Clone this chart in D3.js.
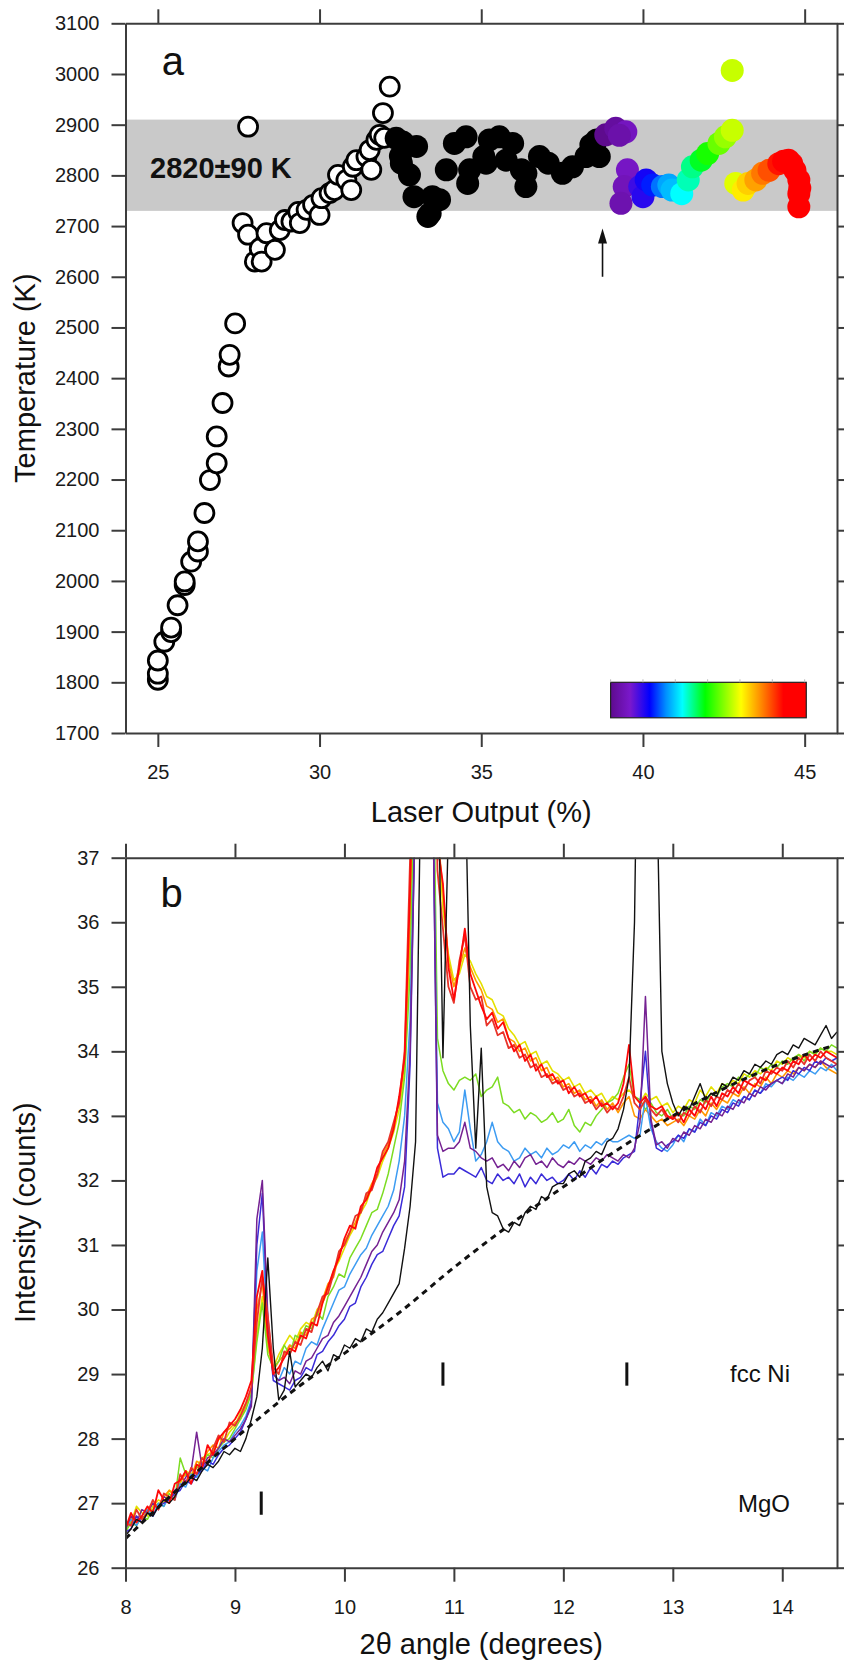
<!DOCTYPE html>
<html>
<head>
<meta charset="utf-8">
<script src="https://cdn.jsdelivr.net/npm/d3@7"></script>
<style>
  body { margin: 0; background: #fff; }
  svg { display: block; font-family: 'Liberation Sans', Arial, sans-serif; }
</style>
</head>
<body>
<svg id="chart" width="844" height="1666"></svg>
<script>
// ---- panel a: temperature vs laser output ----
const heatingOutput = [25.0, 25.0, 25.0, 25.2, 25.41, 25.41, 25.61, 25.83, 25.83, 26.03, 26.24, 26.24, 26.44, 26.61, 26.82, 26.82,
  27.0, 27.19, 27.22, 27.39, 27.62, 27.79, 27.79, 28.0, 28.15, 28.21, 28.36, 28.62, 28.77, 28.93, 29.13, 29.34, 29.39,
  29.6, 29.8, 30.0, 30.06, 30.31, 30.46, 30.57, 30.83, 30.98, 31.03, 31.14, 31.45, 31.55, 31.6, 31.76, 31.86, 32.0, 31.96, 32.17]
const heatingTemp = [1805, 1817, 1843, 1880, 1899, 1908, 1952, 1992, 1999, 2038, 2058, 2078, 2134, 2199, 2232, 2285,
  2351, 2423, 2446, 2508, 2706, 2683, 2896, 2630, 2656, 2630, 2686, 2653, 2692, 2712, 2709, 2728, 2706,
  2732, 2742, 2722, 2755, 2765, 2771, 2801, 2791, 2771, 2817, 2830, 2837, 2850, 2811, 2870, 2880, 2874, 2923, 2975]

const plateauOutput = [32.37, 32.57, 32.5, 32.53, 32.78, 33.0, 32.92, 33.35, 33.42, 33.49, 33.71, 33.92, 34.17, 34.53, 34.64,
  34.58, 35.08, 35.15, 35.25, 35.56, 35.77, 35.97, 36.24, 36.38, 36.38, 36.8, 37.07, 37.51, 37.82, 38.24, 38.39, 38.65, 38.57]
const plateauTemp = [2873, 2866, 2838, 2824, 2801, 2857, 2758, 2719, 2725, 2758, 2752, 2811, 2863, 2876, 2811,
  2784, 2837, 2824, 2870, 2876, 2830, 2863, 2811, 2778, 2804, 2837, 2824, 2804, 2817, 2837, 2860, 2837, 2870]

const scanOutput = [38.85, 39.16, 39.47, 39.27, 39.52, 39.42, 39.32, 39.9, 40.0, 40.1, 40.3, 40.6, 40.8, 40.9, 41.2, 41.4,
  41.53, 41.8, 42.0, 42.35, 42.55, 42.76, 42.76, 42.87, 43.1, 43.25, 43.49, 43.7, 43.9, 44.2, 44.35, 44.5, 44.6, 44.7,
  44.82, 44.85, 44.82, 44.82]
const scanTemp = [2880, 2893, 2886, 2879, 2811, 2778, 2745, 2778, 2758, 2791, 2781, 2778, 2781, 2771, 2764, 2791,
  2817, 2830, 2843, 2863, 2876, 2889, 3007, 2784, 2771, 2784, 2791, 2804, 2810, 2823, 2828, 2830, 2823, 2810,
  2791, 2775, 2764, 2738]

const meltBand = [2730, 2910]
const meltLabel = '2820±90 K'
const arrowOutput = 38.75
const arrowTemp = [2600, 2695]

const rampOutput = [39, 39.6, 40.2, 40.7, 41.2, 41.9, 43, 43.6, 44.3, 45]
const rampColors = ['#5e0b8e', '#7a18cc', '#0000ff', '#0090ff', '#00ffff', '#00ff00', '#ffff00', '#ff8c00', '#ff0000', '#ff0000']

const tempTicks = [1700, 1800, 1900, 2000, 2100, 2200, 2300, 2400, 2500, 2600, 2700, 2800, 2900, 3000, 3100]
const outputTicks = [25, 30, 35, 40, 45]

// ---- panel b: diffraction patterns ----
const twoTheta = [
  8, 8.05, 8.1, 8.15, 8.2, 8.25, 8.3, 8.35, 8.4, 8.45,
  8.5, 8.55, 8.6, 8.65, 8.7, 8.75, 8.8, 8.85, 8.9, 8.95,
  9, 9.05, 9.1, 9.15, 9.2, 9.25, 9.3, 9.35, 9.4, 9.45,
  9.5, 9.55, 9.6, 9.65, 9.7, 9.75, 9.8, 9.85, 9.9, 9.95,
  10, 10.05, 10.1, 10.15, 10.2, 10.25, 10.3, 10.35, 10.4, 10.45,
  10.5, 10.55, 10.6, 10.65, 10.7, 10.75, 10.8, 10.85, 10.9, 10.95,
  11, 11.05, 11.1, 11.15, 11.2, 11.25, 11.3, 11.35, 11.4, 11.45,
  11.5, 11.55, 11.6, 11.65, 11.7, 11.75, 11.8, 11.85, 11.9, 11.95,
  12, 12.05, 12.1, 12.15, 12.2, 12.25, 12.3, 12.35, 12.4, 12.45,
  12.5, 12.55, 12.6, 12.65, 12.7, 12.75, 12.8, 12.85, 12.9, 12.95,
  13, 13.05, 13.1, 13.15, 13.2, 13.25, 13.3, 13.35, 13.4, 13.45,
  13.5, 13.55, 13.6, 13.65, 13.7, 13.75, 13.8, 13.85, 13.9, 13.95,
  14, 14.05, 14.1, 14.15, 14.2, 14.25, 14.3, 14.35, 14.4, 14.45,
  14.5]

const countsYellow = [
  26.6, 26.7, 26.95, 26.85, 26.8, 26.95, 27.05, 27.0, 27.2, 27.15,
  27.3, 27.5, 27.45, 27.55, 27.7, 27.75, 27.8, 28.0, 27.95, 28.1,
  28.2, 28.4, 28.55, 28.7, 29.6, 30.2, 29.4, 29.1, 29.3, 29.45,
  29.6, 29.5, 29.7, 29.8, 29.75, 30.0, 30.1, 30.3, 30.6, 30.75,
  30.95, 31.15, 31.3, 31.5, 31.65, 31.9, 32.05, 32.3, 32.5, 32.75,
  33.1, 33.7, 35.8, 40, 42, 42, 42, 37.6, 36.2, 35.5,
  35.1, 35.2, 35.5, 35.4, 35.2, 35.05, 34.85, 34.8, 34.6, 34.55,
  34.35, 34.25, 34.1, 34.15, 33.95, 34.0, 33.8, 33.85, 33.7, 33.65,
  33.55, 33.6, 33.45, 33.5, 33.35, 33.4, 33.3, 33.35, 33.2, 33.3,
  33.25, 33.35, 33.4, 33.3, 33.2, 33.35, 33.25, 33.3, 33.15, 33.2,
  33.05, 33.15, 33.1, 33.25, 33.2, 33.4, 33.3, 33.45, 33.35, 33.5,
  33.45, 33.55, 33.5, 33.65, 33.6, 33.7, 33.65, 33.75, 33.7, 33.85,
  33.8, 33.9, 33.85, 33.95, 33.9, 34.0, 33.95, 34.05, 34.0, 34.0,
  33.95]

const countsOrange = [
  26.55, 26.75, 26.8, 26.7, 26.9, 27.0, 26.95, 27.1, 27.2, 27.1,
  27.35, 27.45, 27.4, 27.65, 27.6, 27.8, 27.9, 27.85, 28.1, 28.15,
  28.25, 28.3, 28.5, 28.75, 30.0, 30.4, 29.5, 29.05, 29.2, 29.3,
  29.45, 29.4, 29.65, 29.6, 29.85, 29.9, 30.15, 30.4, 30.5, 30.85,
  31.05, 31.2, 31.35, 31.55, 31.75, 31.95, 32.1, 32.4, 32.55, 32.85,
  33.25, 33.8, 36.0, 40, 42, 42, 42, 37.4, 36.5, 35.4,
  35.0, 35.3, 35.6, 35.3, 35.1, 34.95, 34.7, 34.65, 34.45, 34.5,
  34.2, 34.15, 34.0, 34.05, 33.85, 33.9, 33.7, 33.75, 33.55, 33.6,
  33.45, 33.5, 33.35, 33.4, 33.25, 33.3, 33.15, 33.25, 33.1, 33.2,
  33.05, 33.2, 33.3, 33.0, 32.95, 33.1, 33.0, 32.9, 32.95, 32.85,
  32.9, 32.95, 32.85, 33.0, 32.95, 33.1, 33.0, 33.2, 33.1, 33.25,
  33.2, 33.35, 33.3, 33.45, 33.35, 33.5, 33.45, 33.6, 33.5, 33.65,
  33.6, 33.7, 33.65, 33.75, 33.7, 33.8, 33.75, 33.85, 33.75, 33.7,
  33.65]

const countsGreen = [
  26.55, 26.7, 26.65, 26.8, 26.75, 26.9, 27.0, 26.95, 27.15, 27.05,
  27.7, 27.45, 27.4, 27.55, 27.6, 27.75, 27.7, 27.85, 27.95, 28.0,
  28.15, 28.3, 28.45, 28.7, 29.5, 30.1, 29.3, 29.1, 29.2, 29.45,
  29.3, 29.6, 29.55, 29.75, 29.7, 29.95, 29.85, 30.2, 30.35, 30.55,
  30.5, 30.8, 30.95, 31.1, 31.3, 31.5, 31.55, 31.8, 32.1, 32.5,
  32.9, 33.6, 35.2, 39, 42, 42, 40, 34.2, 33.7, 33.5,
  33.4, 33.55, 33.6, 33.55, 33.65, 33.3, 33.4, 33.45, 33.6, 33.2,
  33.15, 33.05, 33.1, 32.95, 33.05, 33.0, 32.9, 32.95, 33.05, 32.9,
  32.95, 33.1, 32.85, 32.75, 32.9, 32.85, 33.0, 33.1, 33.2, 33.25,
  33.35, 33.6, 33.8, 33.3, 33.25, 33.1, 33.2, 33.05, 33.0, 33.1,
  32.95, 33.05, 33.0, 33.15, 33.1, 33.25, 33.2, 33.35, 33.3, 33.45,
  33.5, 33.45, 33.6, 33.55, 33.65, 33.6, 33.75, 33.7, 33.8, 33.75,
  33.85, 33.8, 33.9, 33.95, 33.85, 34.0, 33.95, 34.05, 34.0, 34.1,
  34.05]

const countsLightBlue = [
  26.6, 26.75, 26.65, 26.8, 26.9, 26.8, 27.0, 26.95, 27.1, 27.05,
  27.3, 27.25, 27.45, 27.4, 27.55, 27.5, 27.7, 27.8, 27.9, 27.95,
  28.1, 28.2, 28.35, 28.6, 30.6, 31.2, 29.6, 29.0, 28.9, 29.1,
  29.0, 29.2, 29.15, 29.4, 29.5, 29.45, 29.7, 29.9, 30.1, 30.3,
  30.35, 30.55, 30.7, 30.85, 30.95, 31.15, 31.3, 31.45, 31.6, 31.85,
  32.3, 33.0, 34.5, 38, 42, 42, 39, 33.2, 32.9, 32.8,
  32.6, 32.75, 33.4, 32.8, 32.3, 32.4, 32.6, 32.9, 32.6, 32.5,
  32.45, 32.3, 32.35, 32.5, 32.4, 32.45, 32.35, 32.5, 32.4, 32.45,
  32.55, 32.5, 32.6, 32.45, 32.55, 32.5, 32.6, 32.55, 32.65, 32.6,
  32.6, 32.65, 32.7, 32.65, 32.7, 33.3, 32.8, 32.6, 32.5, 32.45,
  32.55, 32.7, 32.6, 32.8, 32.75, 32.95, 32.85, 33.05, 33.0, 33.15,
  33.1, 33.25, 33.2, 33.3, 33.25, 33.4, 33.35, 33.5, 33.45, 33.55,
  33.5, 33.6, 33.55, 33.65, 33.6, 33.7, 33.65, 33.75, 33.7, 33.8,
  33.7]

const countsBlue = [
  26.55, 26.6, 26.8, 26.7, 26.85, 26.8, 26.95, 27.0, 27.05, 27.15,
  27.2, 27.35, 27.3, 27.45, 27.5, 27.65, 27.6, 27.75, 27.85, 27.9,
  28.0, 28.1, 28.3, 28.55, 31.0, 31.8, 29.8, 28.9, 28.85, 28.8,
  28.75, 28.9, 28.95, 29.1, 29.05, 29.3, 29.35, 29.5, 29.6, 29.75,
  29.85, 30.05, 30.1, 30.35, 30.5, 30.7, 30.85, 30.9, 31.1, 31.3,
  31.45, 31.9, 33.8, 38, 42, 42, 39, 32.5, 32.05, 32.1,
  32.1, 32.2, 32.15, 32.1, 32.05, 32.2, 32.0, 31.95, 32.1, 32.0,
  32.05, 31.95, 32.1, 31.9, 32.05, 31.95, 32.1, 32.0, 32.05, 31.95,
  32.0, 32.1, 32.0, 32.15, 32.05, 32.2, 32.1, 32.25, 32.2, 32.3,
  32.25, 32.35, 32.4, 32.45, 33.2, 34.0, 32.9, 32.5, 32.45, 32.55,
  32.6, 32.7, 32.65, 32.8, 32.75, 32.9, 32.85, 33.0, 32.95, 33.1,
  33.05, 33.2, 33.15, 33.3, 33.25, 33.4, 33.35, 33.45, 33.5, 33.55,
  33.6, 33.55, 33.7, 33.65, 33.75, 33.7, 33.85, 33.8, 33.9, 33.85,
  33.9]

const countsPurple = [
  26.6, 26.8, 26.7, 26.9, 26.85, 27.0, 26.9, 27.1, 27.05, 27.2,
  27.25, 27.4, 27.5, 28.1, 27.55, 27.7, 27.75, 27.85, 28.0, 27.95,
  28.05, 28.15, 28.3, 28.5, 31.4, 32.0, 29.9, 29.0, 28.9, 28.95,
  28.85, 29.05, 29.0, 29.2, 29.25, 29.4, 29.55, 29.6, 29.8, 29.9,
  30.05, 30.2, 30.35, 30.5, 30.7, 30.9, 31.0, 31.2, 31.35, 31.5,
  31.7, 32.3, 34.0, 38, 42, 42, 39, 32.7, 32.45, 32.5,
  32.5, 32.6, 32.9, 32.5, 32.45, 32.35, 32.3, 32.35, 32.2, 32.25,
  32.15, 32.3, 32.2, 32.35, 32.4, 32.25, 32.3, 32.2, 32.35, 32.25,
  32.2, 32.3, 32.25, 32.35, 32.3, 32.25, 32.35, 32.3, 32.4, 32.35,
  32.3, 32.4, 32.35, 32.5, 32.9, 34.85, 32.95, 32.55, 32.6, 32.5,
  32.65, 32.6, 32.75, 32.7, 32.85, 32.8, 32.95, 32.9, 33.05, 33.0,
  33.15, 33.1, 33.25, 33.2, 33.35, 33.3, 33.45, 33.4, 33.5, 33.55,
  33.5, 33.65, 33.6, 33.75, 33.7, 33.8, 33.75, 33.85, 33.8, 33.75,
  33.8]

const countsRed2 = [
  26.7, 26.65, 26.9, 26.75, 26.85, 27.05, 26.9, 27.15, 27.1, 27.05,
  27.45, 27.3, 27.55, 27.45, 27.7, 27.6, 27.85, 28.05, 27.95, 28.25,
  28.2, 28.35, 28.55, 28.8, 29.8, 30.5, 29.9, 29.1, 29.0, 29.35,
  29.3, 29.5, 29.45, 29.7, 29.65, 29.95, 30.2, 30.25, 30.55, 30.9,
  31.0, 31.2, 31.45, 31.5, 31.8, 31.85, 32.1, 32.45, 32.6, 32.9,
  33.2, 34.0, 37.0, 41, 42, 42, 42, 36.8, 35.9, 35.0,
  34.75, 35.4, 35.8, 35.0, 34.8, 34.85, 34.4, 34.5, 34.25, 34.3,
  34.05, 34.1, 33.9, 33.95, 33.75, 33.8, 33.6, 33.65, 33.5, 33.55,
  33.4, 33.45, 33.3, 33.35, 33.2, 33.25, 33.1, 33.2, 33.05, 33.15,
  33.1, 33.3, 33.6, 33.2, 33.1, 33.25, 33.1, 33.0, 33.1, 32.95,
  33.0, 32.9, 33.05, 33.0, 33.15, 33.05, 33.25, 33.15, 33.3, 33.25,
  33.4, 33.35, 33.5, 33.4, 33.55, 33.6, 33.5, 33.7, 33.65, 33.75,
  33.7, 33.85, 33.75, 33.9, 33.8, 33.95, 33.85, 34.0, 33.9, 33.85,
  33.8]

const countsRed1 = [
  26.6, 26.85, 26.7, 26.8, 26.95, 26.85, 27.2, 27.05, 27.0, 27.3,
  27.35, 27.5, 27.3, 27.6, 27.55, 27.9, 27.75, 28.0, 28.1, 28.2,
  28.3, 28.45, 28.65, 28.9, 30.2, 30.6, 29.6, 29.0, 29.1, 29.25,
  29.4, 29.35, 29.6, 29.55, 29.8, 29.75, 30.1, 30.35, 30.6, 30.8,
  31.1, 31.3, 31.25, 31.6, 31.7, 31.9, 32.2, 32.35, 32.5, 32.8,
  33.3, 33.9, 36.5, 40, 42, 42, 42, 37.2, 36.6, 35.3,
  34.8, 35.3, 35.9, 35.2, 34.95, 34.7, 34.5, 34.6, 34.35, 34.45,
  34.2, 34.0, 34.1, 33.85, 33.95, 33.7, 33.8, 33.6, 33.65, 33.5,
  33.55, 33.35, 33.45, 33.3, 33.35, 33.2, 33.3, 33.15, 33.2, 33.1,
  33.2, 33.5, 34.1, 33.3, 33.2, 33.3, 33.15, 33.1, 33.15, 33.0,
  32.95, 33.05, 32.9, 33.1, 33.0, 33.2, 33.1, 33.3, 33.15, 33.35,
  33.3, 33.45, 33.35, 33.55, 33.5, 33.45, 33.6, 33.55, 33.7, 33.65,
  33.75, 33.7, 33.85, 33.8, 33.95, 33.85, 33.95, 33.9, 34.0, 33.95,
  33.9]

const countsBlack = [
  26.5, 26.6, 26.75, 26.7, 26.85, 26.8, 26.95, 27.05, 27.0, 27.1,
  27.25, 27.3, 27.4, 27.35, 27.5, 27.6, 27.55, 27.65, 27.8, 27.75,
  27.85, 27.8, 28.0, 28.3, 28.65, 29.4, 30.8, 29.4, 28.6, 28.75,
  29.35, 28.8, 28.9, 29.0, 28.95, 29.1, 29.2, 29.05, 29.3, 29.25,
  29.45, 29.4, 29.55, 29.5, 29.7, 29.65, 29.85, 29.95, 30.1, 30.25,
  30.4, 30.95, 31.6, 32.6, 38.5, 42, 42, 39, 33.9, 37.5,
  42, 42, 38.5, 34.4, 32.5, 34.05, 31.9, 31.5, 31.45, 31.25,
  31.2, 31.35, 31.3, 31.5, 31.6, 31.55, 31.75, 31.7, 31.9, 31.95,
  31.95, 32.1, 32.15, 32.05, 32.3, 32.35, 32.45, 32.4, 32.6, 32.65,
  32.8, 33.1, 33.6, 36.0, 42, 42, 42, 38.5, 34.0, 33.5,
  33.2, 33.0, 33.15, 33.1, 33.3, 33.5, 33.25, 33.35, 33.3, 33.5,
  33.45, 33.6, 33.55, 33.7, 33.65, 33.8, 33.75, 33.85, 33.8, 33.95,
  34.0, 33.95, 34.1, 34.05, 34.2, 34.15, 34.1, 34.25, 34.4, 34.2,
  34.3]

const bgAngles = [8, 8.5, 9, 9.5, 10, 10.5, 11, 11.5, 12, 12.5, 13, 13.5, 14, 14.45]
const bgCounts = [26.45, 27.25, 28.0, 28.7, 29.32, 29.95, 30.65, 31.3, 31.9, 32.48, 33.0, 33.45, 33.82, 34.08]

const niPeaks = [10.9, 12.58]
const mgoPeaks = [9.24]

const angleTicks = [8, 9, 10, 11, 12, 13, 14]
const countTicks = [26, 27, 28, 29, 30, 31, 32, 33, 34, 35, 36, 37]

// ---- layout ----
const left = 125.5
const right = 837
const axisColor = '#3c3c3c'
const svg = d3.select('#chart')

const styleAxis = (g) => {
  g.attr('font-family', null).attr('font-size', null)
  g.select('.domain').attr('stroke', axisColor).attr('stroke-width', 2)
  g.selectAll('.tick line').attr('stroke', axisColor).attr('stroke-width', 2)
  g.selectAll('.tick text').attr('fill', '#1a1a1a').style('font-size', '20px')
}

const drawFrame = (x, y, xTicks, yTicks, top, bottom) => {
  svg.append('g').attr('transform', `translate(0,${bottom})`)
    .call(d3.axisBottom(x).tickValues(xTicks).tickSize(14).tickSizeOuter(0).tickPadding(18).tickFormat(d3.format('d')))
    .call(styleAxis)
  svg.append('g').attr('transform', `translate(0,${top})`)
    .call(d3.axisTop(x).tickValues(xTicks).tickSize(14).tickSizeOuter(0).tickFormat(''))
    .call(styleAxis)
  svg.append('g').attr('transform', `translate(${left},0)`)
    .call(d3.axisLeft(y).tickValues(yTicks).tickSize(14).tickSizeOuter(0).tickPadding(12).tickFormat(d3.format('d')))
    .call(styleAxis)
  svg.append('g').attr('transform', `translate(${right},0)`)
    .call(d3.axisRight(y).tickValues(yTicks).tickSize(14).tickSizeOuter(0).tickFormat(''))
    .call(styleAxis)
}

// ===== panel a =====
const xA = d3.scaleLinear().domain([24, 46]).range([left, right])
const yA = d3.scaleLinear().domain([1700, 3100]).range([733, 23.3])
const ramp = d3.scaleLinear().domain(rampOutput).range(rampColors).clamp(true)

svg.append('rect')
  .attr('x', left).attr('width', right - left)
  .attr('y', yA(meltBand[1])).attr('height', yA(meltBand[0]) - yA(meltBand[1]))
  .attr('fill', '#c9c9c9')

svg.append('text')
  .attr('x', xA(24.76)).attr('y', yA(2794))
  .attr('font-size', 29).attr('font-weight', 'bold').attr('fill', '#111')
  .text(meltLabel)

svg.append('text')
  .attr('x', xA(25.12)).attr('y', yA(2998))
  .attr('font-size', 40).attr('fill', '#111')
  .text('a')

const heating = heatingOutput.map((v, i) => [v, heatingTemp[i]])
const plateau = plateauOutput.map((v, i) => [v, plateauTemp[i]])
const scan = scanOutput.map((v, i) => [v, scanTemp[i]])

svg.append('g').selectAll('circle')
  .data(heating)
  .join('circle')
  .attr('cx', (d) => xA(d[0]))
  .attr('cy', (d) => yA(d[1]))
  .attr('r', 9.5)
  .attr('fill', '#fff')
  .attr('stroke', '#000')
  .attr('stroke-width', 2.8)

svg.append('g').selectAll('circle')
  .data(plateau)
  .join('circle')
  .attr('cx', (d) => xA(d[0]))
  .attr('cy', (d) => yA(d[1]))
  .attr('r', 11.5)
  .attr('fill', '#000')

svg.append('g').selectAll('circle')
  .data(scan)
  .join('circle')
  .attr('cx', (d) => xA(d[0]))
  .attr('cy', (d) => yA(d[1]))
  .attr('r', 11.5)
  .attr('fill', (d) => ramp(d[0]))

// arrow marking start of the scan
const ax = xA(arrowOutput)
svg.append('line')
  .attr('x1', ax).attr('x2', ax)
  .attr('y1', yA(arrowTemp[0])).attr('y2', yA(arrowTemp[1]) + 12)
  .attr('stroke', '#111').attr('stroke-width', 1.6)
svg.append('path')
  .attr('d', `M${ax},${yA(arrowTemp[1])} L${ax - 4.5},${yA(arrowTemp[1]) + 15} L${ax + 4.5},${yA(arrowTemp[1]) + 15} Z`)
  .attr('fill', '#111')

// colour bar
const grad = svg.append('defs').append('linearGradient').attr('id', 'rampGrad')
rampOutput.forEach((v, i) => {
  grad.append('stop')
    .attr('offset', `${((v - 39) / 6) * 100}%`)
    .attr('stop-color', rampColors[i])
})
svg.append('rect')
  .attr('x', xA(39)).attr('width', xA(45.05) - xA(39))
  .attr('y', yA(1800)).attr('height', yA(1730) - yA(1800))
  .attr('fill', 'url(#rampGrad)')
  .attr('stroke', '#222').attr('stroke-width', 1.2)
svg.append('g').selectAll('line')
  .data([39, 40, 41, 42, 43, 44, 45])
  .join('line')
  .attr('x1', (d) => xA(d)).attr('x2', (d) => xA(d))
  .attr('y1', yA(1800) - 3).attr('y2', yA(1800))
  .attr('stroke', '#bbb').attr('stroke-width', 1)

drawFrame(xA, yA, outputTicks, tempTicks, 23.3, 733)

svg.append('text')
  .attr('x', xA(35)).attr('y', 822)
  .attr('text-anchor', 'middle').attr('font-size', 29).attr('fill', '#111')
  .text('Laser Output (%)')
svg.append('text')
  .attr('transform', `translate(35,${(23.3 + 733) / 2}) rotate(-90)`)
  .attr('text-anchor', 'middle').attr('font-size', 29).attr('fill', '#111')
  .text('Temperature (K)')

// ===== panel b =====
const xB = d3.scaleLinear().domain([8, 14.5]).range([left, right])
const yB = d3.scaleLinear().domain([26, 37]).range([1567.7, 857.7])

svg.select('defs').append('clipPath').attr('id', 'clipB')
  .append('rect')
  .attr('x', left).attr('y', yB(37))
  .attr('width', right - left).attr('height', yB(26) - yB(37))

const patterns = [
  { counts: countsYellow, color: '#e4e000', width: 1.6 },
  { counts: countsOrange, color: '#ff9800', width: 1.6 },
  { counts: countsGreen, color: '#7cdc22', width: 1.5 },
  { counts: countsLightBlue, color: '#3d9cf2', width: 1.5 },
  { counts: countsBlue, color: '#3a2bd8', width: 1.5 },
  { counts: countsPurple, color: '#752292', width: 1.5 },
  { counts: countsRed2, color: '#e8342a', width: 1.8 },
  { counts: countsRed1, color: '#ff0808', width: 1.8 },
  { counts: countsBlack, color: '#111111', width: 1.4 },
]

const lineB = d3.line()
  .x((d) => xB(d[0]))
  .y((d) => yB(d[1]))

const plotB = svg.append('g').attr('clip-path', 'url(#clipB)')

plotB.selectAll('.pattern')
  .data(patterns)
  .join('path')
  .attr('class', 'pattern')
  .attr('fill', 'none')
  .attr('stroke', (d) => d.color)
  .attr('stroke-width', (d) => d.width)
  .attr('stroke-linejoin', 'round')
  .attr('d', (d) => lineB(twoTheta.map((t, i) => [t, d.counts[i]])))

plotB.append('path')
  .attr('fill', 'none')
  .attr('stroke', '#111')
  .attr('stroke-width', 3)
  .attr('stroke-dasharray', '6,5')
  .attr('d', d3.line().curve(d3.curveMonotoneX)
    .x((d) => xB(d[0]))
    .y((d) => yB(d[1]))(bgAngles.map((t, i) => [t, bgCounts[i]])))

// reflection markers
svg.append('g').selectAll('line')
  .data(niPeaks)
  .join('line')
  .attr('x1', (d) => xB(d)).attr('x2', (d) => xB(d))
  .attr('y1', yB(29.18)).attr('y2', yB(28.82))
  .attr('stroke', '#111').attr('stroke-width', 3)
svg.append('g').selectAll('line')
  .data(mgoPeaks)
  .join('line')
  .attr('x1', (d) => xB(d)).attr('x2', (d) => xB(d))
  .attr('y1', yB(27.18)).attr('y2', yB(26.82))
  .attr('stroke', '#111').attr('stroke-width', 3)

svg.append('text')
  .attr('x', 790).attr('y', yB(29)).attr('dy', '0.35em')
  .attr('text-anchor', 'end').attr('font-size', 24).attr('fill', '#111')
  .text('fcc Ni')
svg.append('text')
  .attr('x', 790).attr('y', yB(27)).attr('dy', '0.35em')
  .attr('text-anchor', 'end').attr('font-size', 24).attr('fill', '#111')
  .text('MgO')

svg.append('text')
  .attr('x', xB(8.32)).attr('y', yB(36.23))
  .attr('font-size', 40).attr('fill', '#111')
  .text('b')

drawFrame(xB, yB, angleTicks, countTicks, 857.7, 1567.7)

svg.append('text')
  .attr('x', xB(11.25)).attr('y', 1654)
  .attr('text-anchor', 'middle').attr('font-size', 29).attr('fill', '#111')
  .text('2θ angle (degrees)')
svg.append('text')
  .attr('transform', `translate(35,${(857.7 + 1567.7) / 2}) rotate(-90)`)
  .attr('text-anchor', 'middle').attr('font-size', 29).attr('fill', '#111')
  .text('Intensity (counts)')
</script>
</body>
</html>
